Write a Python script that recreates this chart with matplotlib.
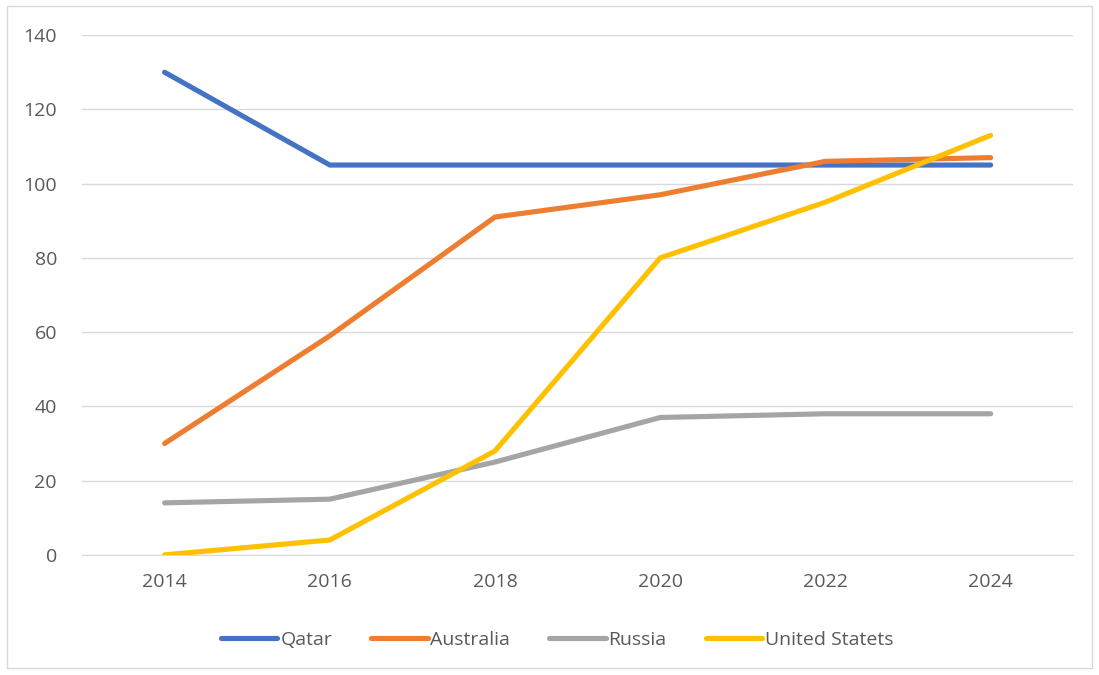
import matplotlib
matplotlib.use("Agg")
import matplotlib.pyplot as plt
from matplotlib.patches import Rectangle

plt.rcParams['font.family'] = ['Open Sans', 'DejaVu Sans']

years = ['2014', '2016', '2018', '2020', '2022', '2024']
qatar = [130, 105, 105, 105, 105, 105]
australia = [30, 59, 91, 97, 106, 107]
russia = [14, 15, 25, 37, 38, 38]
usa = [0, 4, 28, 80, 95, 113]

series = [
    ('Qatar', qatar, '#4472C4'),
    ('Australia', australia, '#ED7D31'),
    ('Russia', russia, '#A5A5A5'),
    ('United Statets', usa, '#FFC000'),
]

fig = plt.figure(figsize=(10.99, 6.75), dpi=100)
ax = fig.add_axes([0.0746, 0.178, 0.902, 0.770])

x = list(range(len(years)))
for name, vals, col in series:
    ax.plot(x, vals, color=col, lw=3.7, label=name, solid_capstyle='round',
            solid_joinstyle='round')

ax.set_xlim(-0.5, len(years) - 0.5)
ax.set_ylim(0, 140)
ax.set_yticks(range(0, 141, 20))
ax.set_xticks(x)
ax.set_xticklabels(years)
ax.grid(axis='y', color='#D9D9D9', lw=1)
ax.set_axisbelow(True)
for s in ['top', 'right', 'left']:
    ax.spines[s].set_visible(False)
ax.spines['bottom'].set_color('#D9D9D9')
ax.tick_params(length=0, labelsize=14, colors='#595959')
ax.tick_params(axis='y', pad=18)
ax.tick_params(axis='x', pad=13)

fig.legend(loc='center', bbox_to_anchor=(0.507, 0.052), ncol=4, frameon=False,
           fontsize=14, labelcolor='#595959', handlelength=2.9,
           handletextpad=0.15, columnspacing=2.0)

# light frame round the chart
fig.patches.append(Rectangle((0.006, 0.01), 0.988, 0.981, transform=fig.transFigure,
                             fill=False, edgecolor='#D9D9D9', lw=1))

fig.savefig('out.png', dpi=100)
